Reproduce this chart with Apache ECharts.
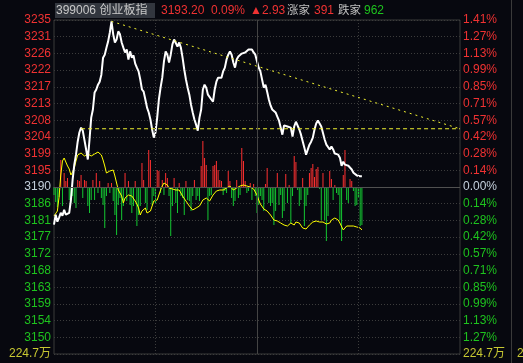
<!DOCTYPE html>
<html>
<head>
<meta charset="utf-8">
<script src="https://cdn.jsdelivr.net/npm/echarts@6/dist/echarts.min.js"></script>
<style>
html,body{margin:0;padding:0;background:#07080f;}
#chart{width:523px;height:363px;}
</style>
</head>
<body>
<div id="chart"></div>
<script>
// ---------- data ----------
const prevClose = 3190.27;
const priceStep = 4.51;
const leftLabels = ['3235','3231','3226','3222','3217','3213','3208','3204','3199','3195','3190','3186','3181','3177','3172','3168','3163','3159','3154','3150','224.7万'];
const rightLabels = ['1.41%','1.27%','1.13%','0.99%','0.85%','0.71%','0.57%','0.42%','0.28%','0.14%','0.00%','0.14%','0.28%','0.42%','0.57%','0.71%','0.85%','0.99%','1.13%','1.27%','224.7万'];

const priceSeries = [
3180.1,3182.8,3180.9,3182.0,3183.3,3182.5,3184.1,3182.8,3182.5,3183.3,
3186.8,3192.2,3196.3,3199.0,3202.5,3205.0,3206.3,3205.5,3205.8,3200.4,
3197.7,3203.1,3209.0,3211.2,3215.8,3216.6,3217.9,3218.7,3220.6,3225.2,
3226.0,3227.9,3229.6,3232.0,3235.0,3231.5,3229.3,3230.1,3232.3,3231.5,
3229.3,3227.9,3226.6,3227.4,3224.7,3226.9,3225.2,3225.8,3223.6,3222.5,
3221.5,3219.3,3216.6,3216.0,3213.9,3211.7,3210.4,3208.5,3205.8,3203.6,
3205.0,3209.0,3213.9,3217.1,3219.8,3224.2,3226.9,3226.0,3223.9,3226.0,
3228.8,3230.1,3229.6,3228.2,3229.3,3227.9,3225.2,3222.0,3219.3,3217.1,
3215.2,3212.5,3210.4,3208.5,3207.1,3205.5,3209.0,3211.2,3216.6,3217.9,
3217.1,3215.2,3214.7,3213.9,3213.3,3216.6,3218.7,3219.8,3220.1,3219.8,
3221.5,3222.5,3224.7,3226.0,3226.9,3226.0,3223.9,3222.5,3224.7,3225.5,
3225.8,3226.3,3226.6,3226.6,3226.6,3227.4,3226.9,3227.4,3226.6,3226.0,
3224.2,3222.5,3221.5,3219.3,3217.1,3217.9,3216.0,3213.9,3212.3,3211.2,
3210.9,3210.4,3209.3,3208.2,3207.9,3204.4,3206.9,3206.9,3206.6,3207.1,
3206.3,3203.9,3206.6,3207.9,3208.2,3205.8,3204.4,3204.1,3200.9,3199.0,
3198.5,3201.7,3202.5,3203.6,3205.8,3207.4,3208.2,3207.4,3206.6,3206.3,
3203.1,3201.7,3201.2,3200.4,3201.2,3200.4,3199.3,3199.8,3199.0,3198.2,
3196.0,3197.1,3196.3,3195.8,3196.0,3196.0,3195.0,3194.1,3193.9,3193.4,
3193.2,3193.2,3193.2
];

// red (up) / green (down) bars
const barSeries = [
-8,-15,-20,-10,27,-19,14,6,9,-13,
-16,-9,-16,-21,7,6,12,-11,7,6,
-19,-26,-13,7,-13,14,-6,6,-11,-18,
-41,-9,4,-6,4,-14,-28,-48,-18,-11,
-33,-19,14,-14,6,-18,-26,-19,6,-39,
-28,-19,24,7,-16,-23,37,27,-18,-9,
-16,17,16,-6,7,-8,14,9,-9,-49,
-19,9,-16,-26,4,-9,-11,-28,6,-13,
-14,-24,-9,7,-13,-9,-14,21,46,29,
22,-33,-9,-8,21,22,26,17,7,6,
-8,-4,-6,16,6,-11,-19,-14,7,-11,
-8,39,26,6,-6,-4,4,-13,3,-9,
-26,-18,-9,-13,-24,3,19,-16,-19,-16,
-38,-24,14,-18,-8,-31,-24,13,-16,2,
-36,-9,31,25,-3,-19,-13,9,-39,-19,
-8,14,19,23,10,18,20,-2,-33,14,
-33,-54,-29,16,8,-13,2,-6,-8,-33,
-54,12,37,-13,-16,8,6,-4,-19,-18,
-10,-39,-38
];

// yellow line
const yellowSeries = [
-29,-27,-24,-10,12,26,29,25,21,18,
12,15,19,26,32,33,34,32,31,32,
33,32,31,31,33,34,35,36,32,27,
21,14,15,16,16,17,11,4,-3,-3,
-9,-16,-11,-9,-8,-8,-9,-11,-14,-17,
-21,-28,-24,-22,-21,-26,-28,-24,-19,-14,
-14,-13,-8,-3,1,4,6,2,-1,-3,
-2,-1,-3,-4,-3,-5,-9,-11,-14,-16,
-19,-21,-23,-22,-21,-22,-19,-16,-13,-11,
-11,-12,-14,-11,-8,-6,-4,-3,-3,-2,
-3,-2,-1,0,1,-1,-3,-2,-1,0,
1,2,2,1,1,2,0,-1,-2,-3,
-8,-13,-17,-19,-22,-23,-24,-25,-28,-30,
-33,-33,-34,-35,-36,-37,-38,-38,-39,-37,
-36,-37,-38,-35,-33,-36,-38,-41,-43,-42,
-41,-38,-36,-35,-34,-34,-33,-35,-36,-35,
-34,-37,-39,-36,-33,-32,-31,-32,-33,-36,
-38,-43,-41,-39,-39,-39,-39,-39,-39,-40,
-40,-41,-43
];

// trend lines: [minute index, price]
const supportLine = [[16, 3206.0], [240, 3206.0]];
const trendLine = [[34, 3235.0], [240, 3206.0]];

const headerCode = '399006 创业板指';
const headerTexts = ['3193.20', '0.09%', '▲2.93', '涨家', '391', '跌家', '962'];
const headerKinds = ['up', 'up', 'up', 'label', 'up', 'label', 'down'];
const volumeLabel = '224.7万';

// ---------- layout / styles ----------
const RED = '#f03232', GREEN = '#1ec31e', NEUTRAL = '#c4d0dc', VOLY = '#c8c832', GRAYTXT = '#c0c0c0';
const FONT = "'Liberation Sans','Noto Sans CJK SC',sans-serif";
const headerX = [161, 211, 250, 287, 314, 338, 364];

const minutes = [];
for (let h = 9, m = 30; minutes.length < 241;) {
  minutes.push(String(h).padStart(2, '0') + ':' + String(m).padStart(2, '0'));
  if (h === 11 && m === 30) { h = 13; m = 1; continue; }
  m++; if (m === 60) { m = 0; h++; }
}

function labelColor(v) {
  const k = Math.round(10 - Number(v));
  if (k === 20) return VOLY;
  if (k === 10) return NEUTRAL;
  return k < 10 ? RED : GREEN;
}

const chart = echarts.init(document.getElementById('chart'), null, {renderer: 'canvas'});

const kindColor = {up: RED, down: GREEN, label: GRAYTXT};
const graphics = [
  {type: 'rect', shape: {x: 55, y: 3, width: 100, height: 15}, style: {fill: '#32363e'}, silent: true},
  {type: 'text', x: 56, y: 10.5, style: {text: headerCode, fill: '#c8c8c8', font: '12px ' + FONT, textVerticalAlign: 'middle'}},
  {type: 'line', shape: {x1: 511.5, y1: 0, x2: 511.5, y2: 363}, style: {stroke: '#3a3a3a', lineWidth: 1}, silent: true},
  {type: 'text', x: 517, y: 354, style: {text: volumeLabel, fill: VOLY, font: '12px ' + FONT, textVerticalAlign: 'middle'}}
];
headerTexts.forEach((t, i) => {
  const cjk = headerKinds[i] === 'label';
  graphics.push({type: 'text', x: headerX[i], y: 10.5, style: {text: t, fill: kindColor[headerKinds[i]], font: (cjk ? '11.5px ' : '12px ') + FONT, textVerticalAlign: 'middle'}});
});

const option = {
  backgroundColor: '#07080f',
  animation: false,
  grid: {left: 54, right: 63, top: 20, bottom: 9, show: true, borderColor: '#3a3a3a', borderWidth: 1, backgroundColor: 'transparent'},
  xAxis: {
    type: 'category', data: minutes, boundaryGap: false,
    axisLine: {show: false}, axisTick: {show: false}, axisLabel: {show: false}, splitLine: {show: false}
  },
  yAxis: [
    {
      type: 'value', min: -10, max: 10, interval: 1, position: 'left',
      axisLine: {show: false}, axisTick: {show: false},
      axisLabel: {margin: 3, fontSize: 12, fontFamily: FONT, color: labelColor,
        formatter: v => leftLabels[Math.round(10 - v)]},
      splitLine: {show: true, lineStyle: {color: '#3c3c3c', type: [1, 2], width: 1}}
    },
    {
      type: 'value', min: -10, max: 10, interval: 1, position: 'right',
      axisLine: {show: false}, axisTick: {show: false},
      axisLabel: {margin: 3, fontSize: 12, fontFamily: FONT, color: labelColor,
        formatter: v => rightLabels[Math.round(10 - v)]},
      splitLine: {show: false}
    },
    {type: 'value', show: false, min: prevClose - 10 * priceStep, max: prevClose + 10 * priceStep, splitLine: {show: false}},
    {type: 'value', show: false, min: -167, max: 167, splitLine: {show: false}}
  ],
  series: [
    {
      type: 'bar', yAxisIndex: 3, barWidth: 1, silent: true,
      data: barSeries.map(v => ({value: v, itemStyle: {color: v >= 0 ? '#ff3030' : '#14c832'}})),
      markLine: {
        silent: true, symbol: 'none', label: {show: false},
        data: [
          {yAxis: 0, lineStyle: {color: '#505050', type: 'solid', width: 1}},
          {xAxis: minutes[120], lineStyle: {color: '#444444', type: 'solid', width: 1}},
          {xAxis: minutes[60], lineStyle: {color: '#3c3c3c', type: [1, 2], width: 1}},
          {xAxis: minutes[180], lineStyle: {color: '#3c3c3c', type: [1, 2], width: 1}}
        ]
      }
    },
    {
      type: 'line', yAxisIndex: 3, data: yellowSeries, showSymbol: false, silent: true,
      lineStyle: {color: '#ffff00', width: 1}
    },
    {
      type: 'line', yAxisIndex: 2, data: priceSeries, showSymbol: false, silent: true,
      lineStyle: {color: '#ffffff', width: 2}
    },
    {
      type: 'line', yAxisIndex: 2, data: supportLine, showSymbol: false, silent: true,
      lineStyle: {color: '#f0f030', width: 1, type: [4, 3]}
    },
    {
      type: 'line', yAxisIndex: 2, data: trendLine, showSymbol: false, silent: true,
      lineStyle: {color: '#f0f030', width: 1, type: [2, 4]}
    }
  ],
  graphic: graphics
};
chart.setOption(option);
</script>
</body>
</html>
